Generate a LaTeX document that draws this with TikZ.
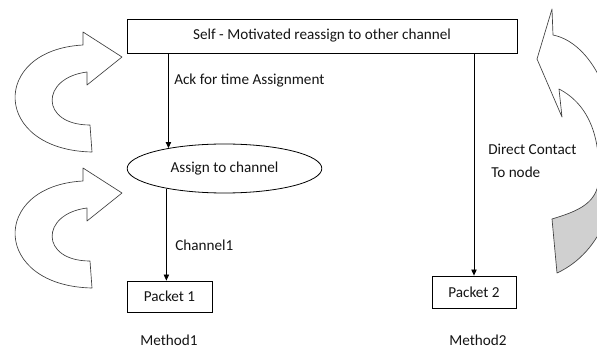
\documentclass[tikz,border=0pt]{standalone}
\usepackage{fontspec}
\setmainfont{Carlito}
\usetikzlibrary{arrows.meta,shapes.geometric}
\definecolor{curlline}{HTML}{404040}
\definecolor{curlback}{HTML}{D0D0D0}
\definecolor{txtdark}{HTML}{141414}
\newcommand{\backcurl}{(552,9) -- (553,35) .. controls (625,50) and (650,230) .. (557,273)
  -- (552,219) .. controls (575,212) and (594,205) .. (598,185)
  .. controls (602,140) and (590,105) .. (559,89) -- (562,117) -- (537,59) -- cycle}

\begin{document}
\begin{tikzpicture}[x=0.75pt,y=-0.75pt,
    box/.style={draw,line width=0.6pt,inner sep=0pt,text=txtdark,font=\fontsize{11.4}{13}\selectfont},
    lbl/.style={anchor=west,inner sep=0pt,text=txtdark,font=\fontsize{11.4}{13}\selectfont},
    arr/.style={-{Triangle[length=4.5pt,width=4pt]},line width=0.6pt},
    curl/.style={draw=curlline,line width=0.5pt,line join=round}]
  \useasboundingbox (0,0) rectangle (597,349);
  % boxes and the ellipse
  \node[box,minimum width=292.5pt,minimum height=25.5pt] (top) at (322,36)
    {Self - Motivated reassign to other channel};
  \node[box,ellipse,minimum width=146pt,minimum height=36.75pt] (assign) at (224.5,168.5)
    {Assign to channel};
  \node[box,minimum width=63.75pt,minimum height=23.25pt] (pkt1) at (169.5,296.5) {Packet 1};
  \node[box,minimum width=63pt,minimum height=24pt] (pkt2) at (474,292) {Packet 2};
  % labels
  \node[lbl] (ack) at (174,81) {Ack for time Assignment};
  \node[lbl] (chan) at (175,245) {Channel1};
  \node[lbl] (direct) at (488,149) {Direct Contact};
  \node[lbl] (tonode) at (491,172) {To node};
  \node[lbl] (meth1) at (140,340) {Method1};
  \node[lbl] (meth2) at (449,340) {Method2};
  % connectors
  \draw[arr] (assign.160.5 |- top.south) -- (assign.160.5);
  \draw[arr] (assign.199.5) -- (assign.199.5 |- pkt1.north);
  \draw[arr] (pkt2.north |- top.south) -- (pkt2.north);
  % curled arrows on the left
  \foreach \dy in {0,136}{
    \draw[curl,shift={(0,\dy)}] (83,32) -- (122,57) -- (87,85) -- (87,72)
      .. controls (40,78) and (40,125) .. (90,125) -- (92,152)
      .. controls (-8,150) and (-10,50) .. (83,45) -- cycle;
  }
  % curled arrow on the right
  \begin{scope}
    \clip (0,0) rectangle (597,349);
    \begin{scope}
      \clip \backcurl;
      \fill[curlback] (552,219) .. controls (575,212) and (594,205) .. (598,185)
        -- (660,185) -- (660,300) -- (540,300) -- cycle;
    \end{scope}
    \draw[curl] \backcurl;
  \end{scope}
\end{tikzpicture}
\end{document}
